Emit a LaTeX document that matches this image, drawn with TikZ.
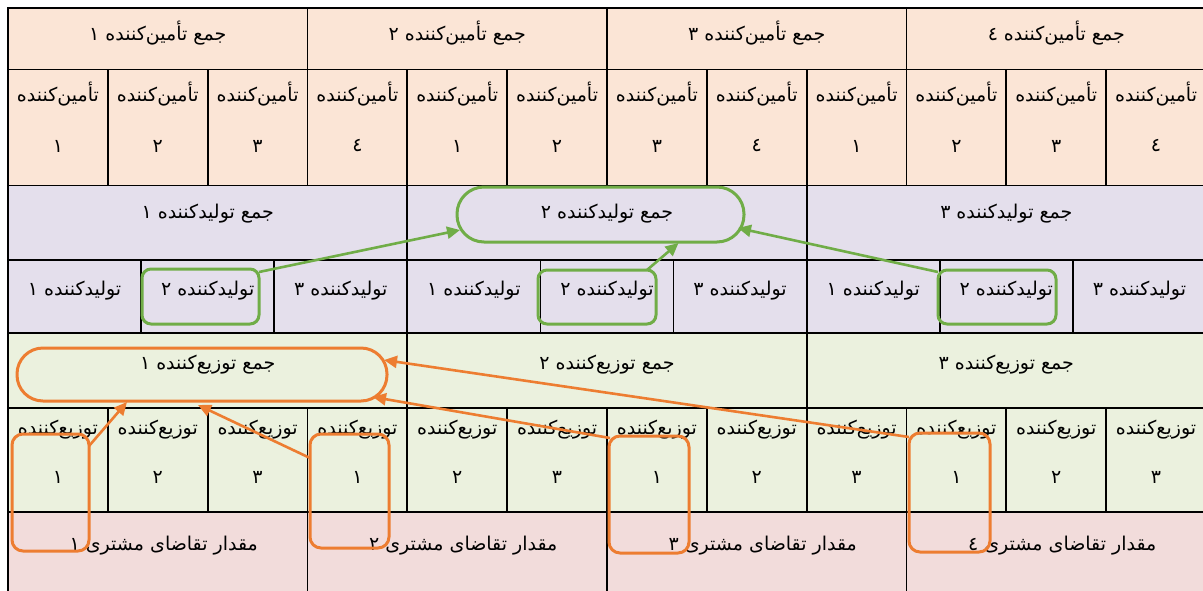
\documentclass[tikz,border=0pt]{standalone}
\usepackage{fontspec}
\TeXXeTstate=1
\newfontfamily\fa[Script=Arabic]{DejaVu Sans}
\usetikzlibrary{arrows.meta,calc}
\definecolor{peach}{HTML}{FBE5D6}
\definecolor{lav}{HTML}{E4DFEC}
\definecolor{lgreen}{HTML}{EBF1DE}
\definecolor{lpink}{HTML}{F2DCDB}
\definecolor{ggreen}{HTML}{70AD47}
\definecolor{gorange}{HTML}{ED7D31}
\newcommand\fadigit[1]{\ifcase#1\or ١\or ٢\or ٣\or ٤\fi}
\tikzset{
  cell/.style={draw=black,line width=1.8pt,inner sep=0pt,outer sep=0pt,anchor=north west},
  txt/.style={font=\fa\fontsize{19}{22}\selectfont,inner sep=0pt},
  gbox/.style={draw=ggreen,line width=3pt,rounded corners=9pt,inner sep=0pt,outer sep=0pt},
  gpill/.style={draw=ggreen,line width=3pt,rounded corners=27pt,inner sep=0pt,outer sep=0pt},
  obox/.style={draw=gorange,line width=3pt,rounded corners=11pt,inner sep=0pt,outer sep=0pt},
  opill/.style={draw=gorange,line width=3pt,rounded corners=26pt,inner sep=0pt,outer sep=0pt},
  garrow/.style={draw=ggreen,line width=2.6pt,-{Triangle[length=13pt,width=12pt]}},
  oarrow/.style={draw=gorange,line width=2.6pt,-{Triangle[length=13pt,width=12pt]}}
}
\begin{document}
\begin{tikzpicture}[x=1pt,y=-1pt]
\useasboundingbox (0,0) rectangle (1203,590);
\clip (0,0) rectangle (1203,590);
% Row 1: supplier sums
\foreach \k in {1,...,4} {
  \node[cell,fill=peach,minimum width=299.5pt,minimum height=61.5pt] (sg\k) at ({8+299.5*(\k-1)},8) {};
  \node[txt] (sgt\k) at ({8+299.5*(\k-0.5)},33) {\beginR جمع تأمین‌کننده \fadigit{\k}\endR};
}
% Row 2: suppliers
\foreach \i in {1,...,12} {
  \pgfmathtruncatemacro\d{mod(\i-1,4)+1}
  \node[cell,fill=peach,minimum width=99.83pt,minimum height=116pt] (s\i) at ({8+99.83*(\i-1)},69.5) {};
  \node[txt] (sw\i) at ({8+99.83*(\i-0.5)},94) {\beginR تأمین‌کننده\endR};
  \node[txt] (sn\i) at ({8+99.83*(\i-0.5)},146) {\fadigit{\d}};
}
% Row 3: producer sums
\foreach \k in {1,...,3} {
  \node[cell,fill=lav,minimum width=399.33pt,minimum height=74.5pt] (pg\k) at ({8+399.33*(\k-1)},185.5) {};
  \node[txt] (pgt\k) at ({8+399.33*(\k-0.5)},214) {\beginR جمع تولیدکننده \fadigit{\k}\endR};
}
% Row 4: producers
\foreach \i in {1,...,9} {
  \pgfmathtruncatemacro\d{mod(\i-1,3)+1}
  \node[cell,fill=lav,minimum width=133.11pt,minimum height=73pt] (p\i) at ({8+133.11*(\i-1)},260) {};
  \node[txt] (pt\i) at ({8+133.11*(\i-0.5)},291) {\beginR تولیدکننده \fadigit{\d}\endR};
}
% Row 5: distributor sums
\foreach \k in {1,...,3} {
  \node[cell,fill=lgreen,minimum width=399.33pt,minimum height=75pt] (dg\k) at ({8+399.33*(\k-1)},333) {};
  \node[txt] (dgt\k) at ({8+399.33*(\k-0.5)},365) {\beginR جمع توزیع‌کننده \fadigit{\k}\endR};
}
% Row 6: distributors
\foreach \i in {1,...,12} {
  \pgfmathtruncatemacro\d{mod(\i-1,3)+1}
  \node[cell,fill=lgreen,minimum width=99.83pt,minimum height=104pt] (d\i) at ({8+99.83*(\i-1)},408) {};
  \node[txt] (dw\i) at ({8+99.83*(\i-0.5)},430) {\beginR توزیع‌کننده\endR};
  \node[txt] (dn\i) at ({8+99.83*(\i-0.5)},477) {\fadigit{\d}};
}
% Row 7: customer demand
\foreach \k in {1,...,4} {
  \node[cell,fill=lpink,minimum width=299.5pt,minimum height=90pt] (c\k) at ({8+299.5*(\k-1)},512) {};
  \node[txt] (ct\k) at ({8+299.5*(\k-0.5)+6},546) {\beginR مقدار تقاضای مشتری \fadigit{\k}\endR};
}
% green highlights
\node[gpill,minimum width=287pt,minimum height=55pt] (P2) at (600.5,214.5) {};
\node[gbox,minimum width=117pt,minimum height=55pt] (g1) at (200.5,296.5) {};
\node[gbox,minimum width=118pt,minimum height=54pt] (g2) at (597,297) {};
\node[gbox,minimum width=118pt,minimum height=54pt] (g3) at (997,297) {};
\draw[garrow] ($(g1.north east)+(0,3)$) -- ($(P2.west)+(3,15.5)$);
\draw[garrow] ($(g2.north east)+(-9,0)$) -- ($(P2.south)+(78,1)$);
\draw[garrow] ($(g3.north west)+(0,2)$) -- ($(P2.east)+(-6,13.5)$);
% orange highlights
\node[opill,minimum width=370pt,minimum height=53pt] (P1) at (202,374.5) {};
\node[obox,minimum width=77pt,minimum height=117pt] (oA) at (50.5,492.5) {};
\node[obox,minimum width=79pt,minimum height=114pt] (oB) at (349.5,491) {};
\node[obox,minimum width=80pt,minimum height=117pt] (oC) at (649,494.5) {};
\node[obox,minimum width=81pt,minimum height=119pt] (oD) at (949.5,492.5) {};
\draw[oarrow] ($(oA.north east)+(0,12)$) -- ($(P1.south)+(-75,1)$);
\draw[oarrow] ($(oB.north west)+(0,24)$) -- ($(P1.south)+(-4,4)$);
\draw[oarrow] ($(oC.north west)+(1,2)$) -- ($(P1.east)+(-14,22.5)$);
\draw[oarrow] ($(oD.north west)+(0,4)$) -- ($(P1.east)+(-3,-14.5)$);
\end{tikzpicture}
\end{document}
